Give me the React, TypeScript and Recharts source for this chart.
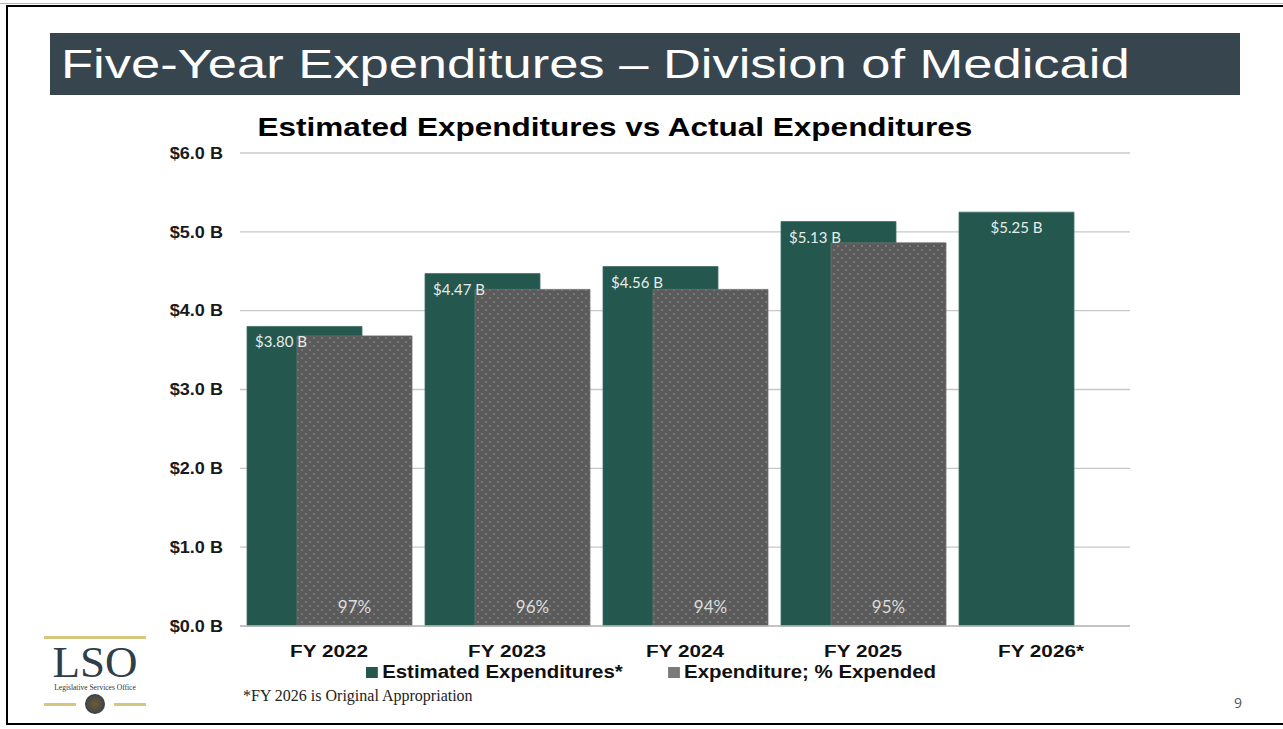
import { BarChart, Bar, XAxis, YAxis, CartesianGrid, LabelList } from 'recharts';

const years = ['FY 2022', 'FY 2023', 'FY 2024', 'FY 2025', 'FY 2026*'];
const estimated = [3.8, 4.47, 4.56, 5.13, 5.25];
const actual = [3.68, 4.27, 4.27, 4.86, null];
const pctExpended = [97, 96, 94, 95, null];
const yTicks = [0, 1, 2, 3, 4, 5, 6];
const seriesNames = ['Estimated Expenditures*', 'Expenditure; % Expended'];

const GREEN = '#24584f';
const GRAY = '#5c5b5b';
const SANS = '"Liberation Sans", Arial, sans-serif';
const SERIF = '"Liberation Serif", "Times New Roman", serif';
const labelFont = '"Lato", "Open Sans", sans-serif';

const data = years.map((y, i) => ({
  year: y, estimated: estimated[i], actual: actual[i], pct: pctExpended[i],
}));

// the slide text is wider than the installed fonts, so stretch it a little
function YTick({ x, y, payload }: any) {
  return (
    <text transform={`translate(${x},${y}) scale(1.13,1)`} textAnchor="end" dy="0.355em"
      fontSize={16} fontWeight={700} fill="#1a1a1a" fontFamily={SANS}>
      {`$${Number(payload.value).toFixed(1)} B`}
    </text>
  );
}

function XTick({ x, y, payload }: any) {
  return (
    <text transform={`translate(${x},${y}) scale(1.22,1)`} textAnchor="middle" dy="0.71em"
      fontSize={17} fontWeight={700} fill="#111" fontFamily={SANS}>
      {payload.value}
    </text>
  );
}

function EstLabel(props: any) {
  const { x, y, width, value, index } = props;
  if (value == null) return null;
  const alone = actual[index] == null;
  return (
    <text x={alone ? x + width / 2 : x + 8} y={y + 21} textAnchor={alone ? 'middle' : 'start'}
      fill="#e6ece9" fontSize={15} fontFamily={labelFont}>
      {`$${Number(value).toFixed(2)} B`}
    </text>
  );
}

function PctLabel(props: any) {
  const { x, y, width, height, value } = props;
  if (value == null) return null;
  return (
    <text x={x + width / 2} y={y + height - 13} textAnchor="middle" fill="#dcdcdc" fontSize={17} fontFamily={labelFont}>
      {`${value}%`}
    </text>
  );
}

export default function App() {
  return (
    <div style={{ position: 'fixed', left: 0, top: 0, width: 1283, height: 729, background: '#fff', overflow: 'hidden', fontFamily: SANS }}>
      {/* slide frame */}
      <div style={{ position: 'absolute', left: 0, top: 3, width: 1283, height: 1, background: '#b5b5b5' }} />
      <div style={{ position: 'absolute', left: 6, top: 5, width: 1290, height: 716, borderTop: '2px solid #000', borderLeft: '2px solid #000', borderBottom: '2px solid #000' }} />

      {/* title bar */}
      <div style={{ position: 'absolute', left: 50, top: 33, width: 1190, height: 62, background: '#37454f' }} />
      <div style={{ position: 'absolute', left: 61, top: 33, height: 62, lineHeight: '62px', color: '#fff', fontSize: 41, whiteSpace: 'nowrap', transform: 'scaleX(1.28)', transformOrigin: 'left center' }}>
        Five-Year Expenditures – Division of Medicaid
      </div>

      <div style={{ position: 'absolute', left: 0, top: 0 }}>
        <BarChart
          width={1283}
          height={729}
          data={data}
          margin={{ top: 153, right: 153, bottom: 73, left: 0 }}
          barSize={115}
          barGap={-65}
        >
          <defs>
            <pattern id="dots" width="8" height="8" patternUnits="userSpaceOnUse">
              <rect width="8" height="8" fill={GRAY} />
              <circle cx="2" cy="2" r="0.85" fill="#929292" />
              <circle cx="6" cy="6" r="0.85" fill="#929292" />
            </pattern>
          </defs>
          <CartesianGrid horizontal vertical={false} stroke="#c8c8c8" strokeWidth={1.3} />
          <XAxis
            dataKey="year"
            tickLine={false}
            axisLine={{ stroke: '#bdbdbd', strokeWidth: 1.3 }}
            height={30}
            tickMargin={13}
            tick={<XTick />}
          />
          <YAxis
            domain={[0, 6]}
            ticks={yTicks}
            width={240}
            tickLine={false}
            axisLine={false}
            tickMargin={11}
            tick={<YTick />}
          />
          <Bar dataKey="estimated" fill={GREEN} stroke="#3f6f66" strokeWidth={0.8} isAnimationActive={false}>
            <LabelList dataKey="estimated" content={EstLabel} />
          </Bar>
          <Bar dataKey="actual" fill="url(#dots)" stroke="#6e6e6e" strokeWidth={0.8} isAnimationActive={false}>
            <LabelList dataKey="pct" content={PctLabel} />
          </Bar>
        </BarChart>
      </div>

      {/* chart title */}
      <div style={{ position: 'absolute', left: 615, top: 113, fontSize: 25, fontWeight: 700, color: '#000', whiteSpace: 'nowrap', transform: 'translateX(-50%) scaleX(1.26)' }}>
        Estimated Expenditures vs Actual Expenditures
      </div>

      {/* legend */}
      <div style={{ position: 'absolute', left: 366, top: 661, display: 'flex', alignItems: 'center', fontSize: 19, fontWeight: 700, color: '#111', whiteSpace: 'nowrap', transform: 'scaleX(1.075)', transformOrigin: 'left center' }}>
        <span style={{ width: 11, height: 11, background: GREEN, marginRight: 4 }} />
        <span>{seriesNames[0]}</span>
        <span style={{ width: 11, height: 11, background: '#7a7a7a', marginLeft: 42, marginRight: 4 }} />
        <span>{seriesNames[1]}</span>
      </div>

      {/* footnote */}
      <div style={{ position: 'absolute', left: 243, top: 687, fontFamily: SERIF, fontSize: 16, color: '#222', whiteSpace: 'nowrap' }}>
        *FY 2026 is Original Appropriation
      </div>

      {/* LSO logo */}
      <div style={{ position: 'absolute', left: 44, top: 636, width: 102, height: 3, background: '#d7c67f' }} />
      <div style={{ position: 'absolute', left: 44, width: 102, top: 647, height: 30, textAlign: 'center', fontFamily: SERIF, fontSize: 45, lineHeight: '30px', color: '#2f3f4a' }}>
        LSO
      </div>
      <div style={{ position: 'absolute', left: 30, width: 130, top: 683, textAlign: 'center', fontFamily: SERIF, fontSize: 7.5, lineHeight: '9px', color: '#333', whiteSpace: 'nowrap' }}>
        Legislative Services Office
      </div>
      <div style={{ position: 'absolute', left: 44, top: 703, width: 32, height: 3, background: '#d7c67f' }} />
      <div style={{ position: 'absolute', left: 114, top: 703, width: 32, height: 3, background: '#d7c67f' }} />
      <div style={{ position: 'absolute', left: 85, top: 694, width: 20, height: 20, borderRadius: '50%', background: 'radial-gradient(circle, #6b5a3c 0%, #4a4a44 55%, #2e3a40 75%, #b9a56a 90%)' }} />

      {/* page number */}
      <div style={{ position: 'absolute', left: 1234, top: 693, fontFamily: '"Open Sans", sans-serif', fontSize: 14, color: '#555' }}>9</div>
    </div>
  );
}
